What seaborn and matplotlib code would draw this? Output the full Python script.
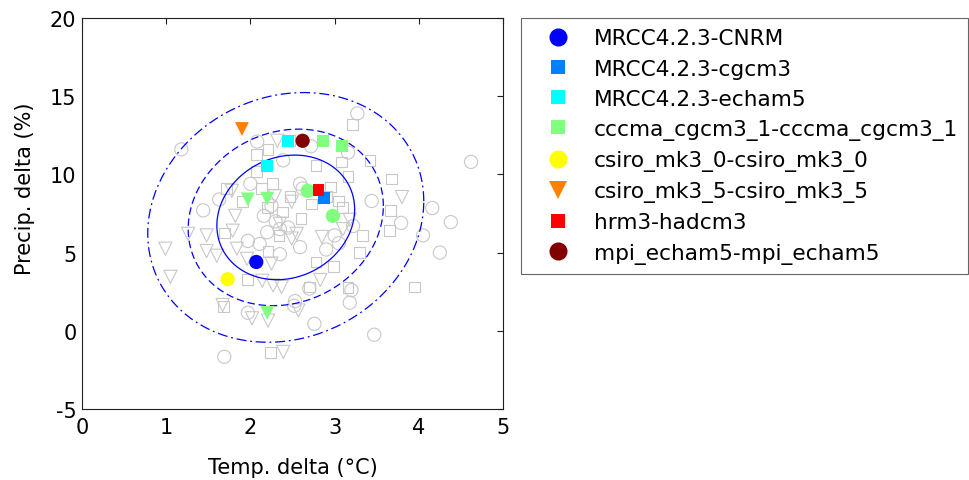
import matplotlib
matplotlib.use("Agg")
import matplotlib.pyplot as plt
from matplotlib.lines import Line2D
import numpy as np
import pandas as pd
import seaborn as sns

sns.set_style("white")
plt.rcParams["font.family"] = ["DejaVu Sans"]
plt.rcParams["axes.unicode_minus"] = False

# ---- other ensemble members (grey, hollow) ----
grey_circle_temp = [1.18, 1.69, 3.27, 4.62, 3.44, 4.16, 3.79, 4.38, 4.05, 4.25, 3.20, 3.18,
                    2.76, 3.47, 2.59, 3.00, 2.53, 2.70, 1.97, 2.52, 1.44, 1.63, 2.00, 2.08,
                    2.39, 2.16, 2.59, 2.72, 3.16, 1.97, 2.11, 2.30, 2.45, 2.20, 2.35, 2.25,
                    2.90, 3.05, 2.62, 2.35, 3.22]
grey_circle_precip = [11.6, -1.66, 13.9, 10.8, 8.3, 7.85, 6.9, 6.95, 6.1, 5.0, 2.6, 1.8,
                      0.45, -0.25, 5.35, 6.1, 1.9, 2.7, 1.15, 1.6, 7.7, 8.4, 9.4, 12.1,
                      10.9, 7.35, 9.4, 11.8, 11.4, 5.75, 5.55, 7.0, 6.6, 6.3, 4.9, 8.0,
                      5.2, 5.6, 9.1, 6.5, 6.7]

grey_square_temp = [2.21, 2.07, 2.07, 2.26, 1.72, 2.13, 2.46, 2.47, 2.38, 1.69, 1.91, 3.21,
                    2.78, 3.08, 3.42, 3.16, 3.68, 2.95, 3.66, 3.65, 3.09, 2.73, 3.33, 3.30,
                    2.78, 2.99, 2.70, 3.16, 3.95, 2.24, 2.34, 1.68, 1.97, 2.21, 2.90, 3.05,
                    2.60, 2.20]
grey_square_precip = [11.6, 11.25, 10.2, 9.4, 9.1, 9.1, 12.15, 8.6, 7.6, 6.25, 8.25, 13.2,
                      10.55, 10.8, 10.9, 9.85, 9.7, 9.2, 7.7, 6.4, 7.9, 8.1, 6.1, 5.0,
                      4.4, 4.1, 2.8, 2.75, 2.8, -1.4, 6.1, 1.55, 3.3, 5.05, 8.6, 8.3,
                      7.2, 7.9]

grey_tri_temp = [1.26, 1.48, 1.82, 1.79, 2.32, 2.49, 1.78, 0.99, 1.05, 1.48, 1.60, 1.84,
                 1.96, 2.14, 2.27, 2.37, 1.67, 2.02, 2.21, 2.39, 2.49, 2.35, 3.80, 2.29,
                 2.83, 2.57, 3.10, 3.18, 2.85, 2.55, 2.25]
grey_tri_precip = [6.2, 6.1, 7.35, 6.4, 12.15, 8.25, 8.95, 5.25, 3.45, 5.1, 4.8, 5.25,
                   4.6, 3.2, 2.9, 2.8, 1.65, 0.8, 0.65, -1.35, 5.9, 6.85, 8.55, 8.6,
                   3.25, 1.3, 6.5, 7.1, 6.0, 6.2, 4.3]

# ---- highlighted RCMs ----
model_names = ["MRCC4.2.3-CNRM", "MRCC4.2.3-cgcm3", "MRCC4.2.3-echam5",
               "cccma_cgcm3_1-cccma_cgcm3_1", "csiro_mk3_0-csiro_mk3_0",
               "csiro_mk3_5-csiro_mk3_5", "hrm3-hadcm3", "mpi_echam5-mpi_echam5"]
model_colors = ["#0000ff", "#0080ff", "#00ffff", "#80ff80", "#ffff00",
                "#ff8000", "#ff0000", "#800000"]
model_legend_markers = ["o", "s", "s", "s", "o", "v", "s", "o"]

hl_model = [0, 1, 2, 2, 3, 3, 3, 3, 3, 3, 3, 4, 5, 6, 7]
hl_marker = ["o", "s", "s", "s", "s", "s", "o", "o", "v", "v", "v", "o", "v", "s", "o"]
hl_temp = [2.07, 2.87, 2.20, 2.45, 2.86, 3.09, 2.68, 2.98, 1.97, 2.20, 2.20, 1.73, 1.90, 2.81, 2.62]
hl_precip = [4.4, 8.5, 10.55, 12.15, 12.15, 11.8, 8.95, 7.35, 8.4, 8.45, 1.15, 3.3, 12.9, 9.0, 12.15]

# ---- ensemble spread ellipses ----
ell_center = (2.42, 7.25)
ell_sd = (0.54, 2.63)
ell_rho = 0.13
ell_k = [1.515, 2.146, 3.035]
ell_styles = ["-", (0, (6, 3)), (0, (8, 3, 1.5, 3))]

grey = "#c8c8c8"
sizes = {"o": 90, "s": 60, "v": 90}
hl_sizes = {"o": 105, "s": 72, "v": 100}

fig = plt.figure(figsize=(9.69, 4.81), dpi=100)
ax = fig.add_axes([0.0846, 0.1476, 0.4345, 0.8129])

for xs, ys, m in [(grey_circle_temp, grey_circle_precip, "o"),
                  (grey_square_temp, grey_square_precip, "s"),
                  (grey_tri_temp, grey_tri_precip, "v")]:
    sns.scatterplot(x=xs, y=ys, marker=m, s=sizes[m], facecolors="none",
                    edgecolor=grey, linewidth=0.8, ax=ax, zorder=2)

# ellipses from mean / covariance
sx, sy = ell_sd
cov = np.array([[sx ** 2, ell_rho * sx * sy], [ell_rho * sx * sy, sy ** 2]])
chol = np.linalg.cholesky(cov)
t = np.linspace(0, 2 * np.pi, 300)
circle = np.vstack([np.cos(t), np.sin(t)])
for k, ls in zip(ell_k, ell_styles):
    pts = k * chol @ circle
    ax.plot(ell_center[0] + pts[0], ell_center[1] + pts[1], color="#0000ff",
            linestyle=ls, linewidth=0.9, zorder=3)

hl = pd.DataFrame({"model": hl_model, "marker": hl_marker,
                   "temp": hl_temp, "precip": hl_precip})
for (mi, m), grp in hl.groupby(["model", "marker"]):
    sns.scatterplot(data=grp, x="temp", y="precip", marker=m, s=hl_sizes[m],
                    color=model_colors[mi], edgecolor="none", ax=ax, zorder=4)

ax.set_xlim(0, 5)
ax.set_ylim(-5, 20)
ax.set_xticks(range(0, 6))
ax.set_yticks(range(-5, 21, 5))
ax.tick_params(direction="in", top=True, right=True, length=4, width=0.8,
               labelsize=15, colors="#202020", labelcolor="black")
ax.tick_params(axis="x", pad=6)
ax.tick_params(axis="y", pad=4)
for sp in ax.spines.values():
    sp.set_color("#202020")
    sp.set_linewidth(0.8)
ax.set_xlabel("Temp. delta (°C)", fontsize=15, labelpad=14, color="black")
ax.set_ylabel("Precip. delta (%)", fontsize=15, color="black")
ax.yaxis.set_label_coords(-0.112, 0.565)

handles = []
for c, m in zip(model_colors, model_legend_markers):
    ms = 9.5 if m == "s" else 13
    handles.append(Line2D([], [], marker=m, color=c, linestyle="none",
                          markersize=ms, markeredgewidth=0))
leg = fig.legend(handles, model_names, loc="upper left",
                 bbox_to_anchor=(521 / 969, 1 - 19 / 481), fontsize=15.6,
                 frameon=True, fancybox=False, borderpad=0.48, handlelength=2.45,
                 handletextpad=0.43, labelspacing=0.47, borderaxespad=0)
leg.get_frame().set_edgecolor("#404040")
leg.get_frame().set_linewidth(0.8)
for txt in leg.get_texts():
    txt.set_color("black")

fig.savefig("out.png", dpi=100)
